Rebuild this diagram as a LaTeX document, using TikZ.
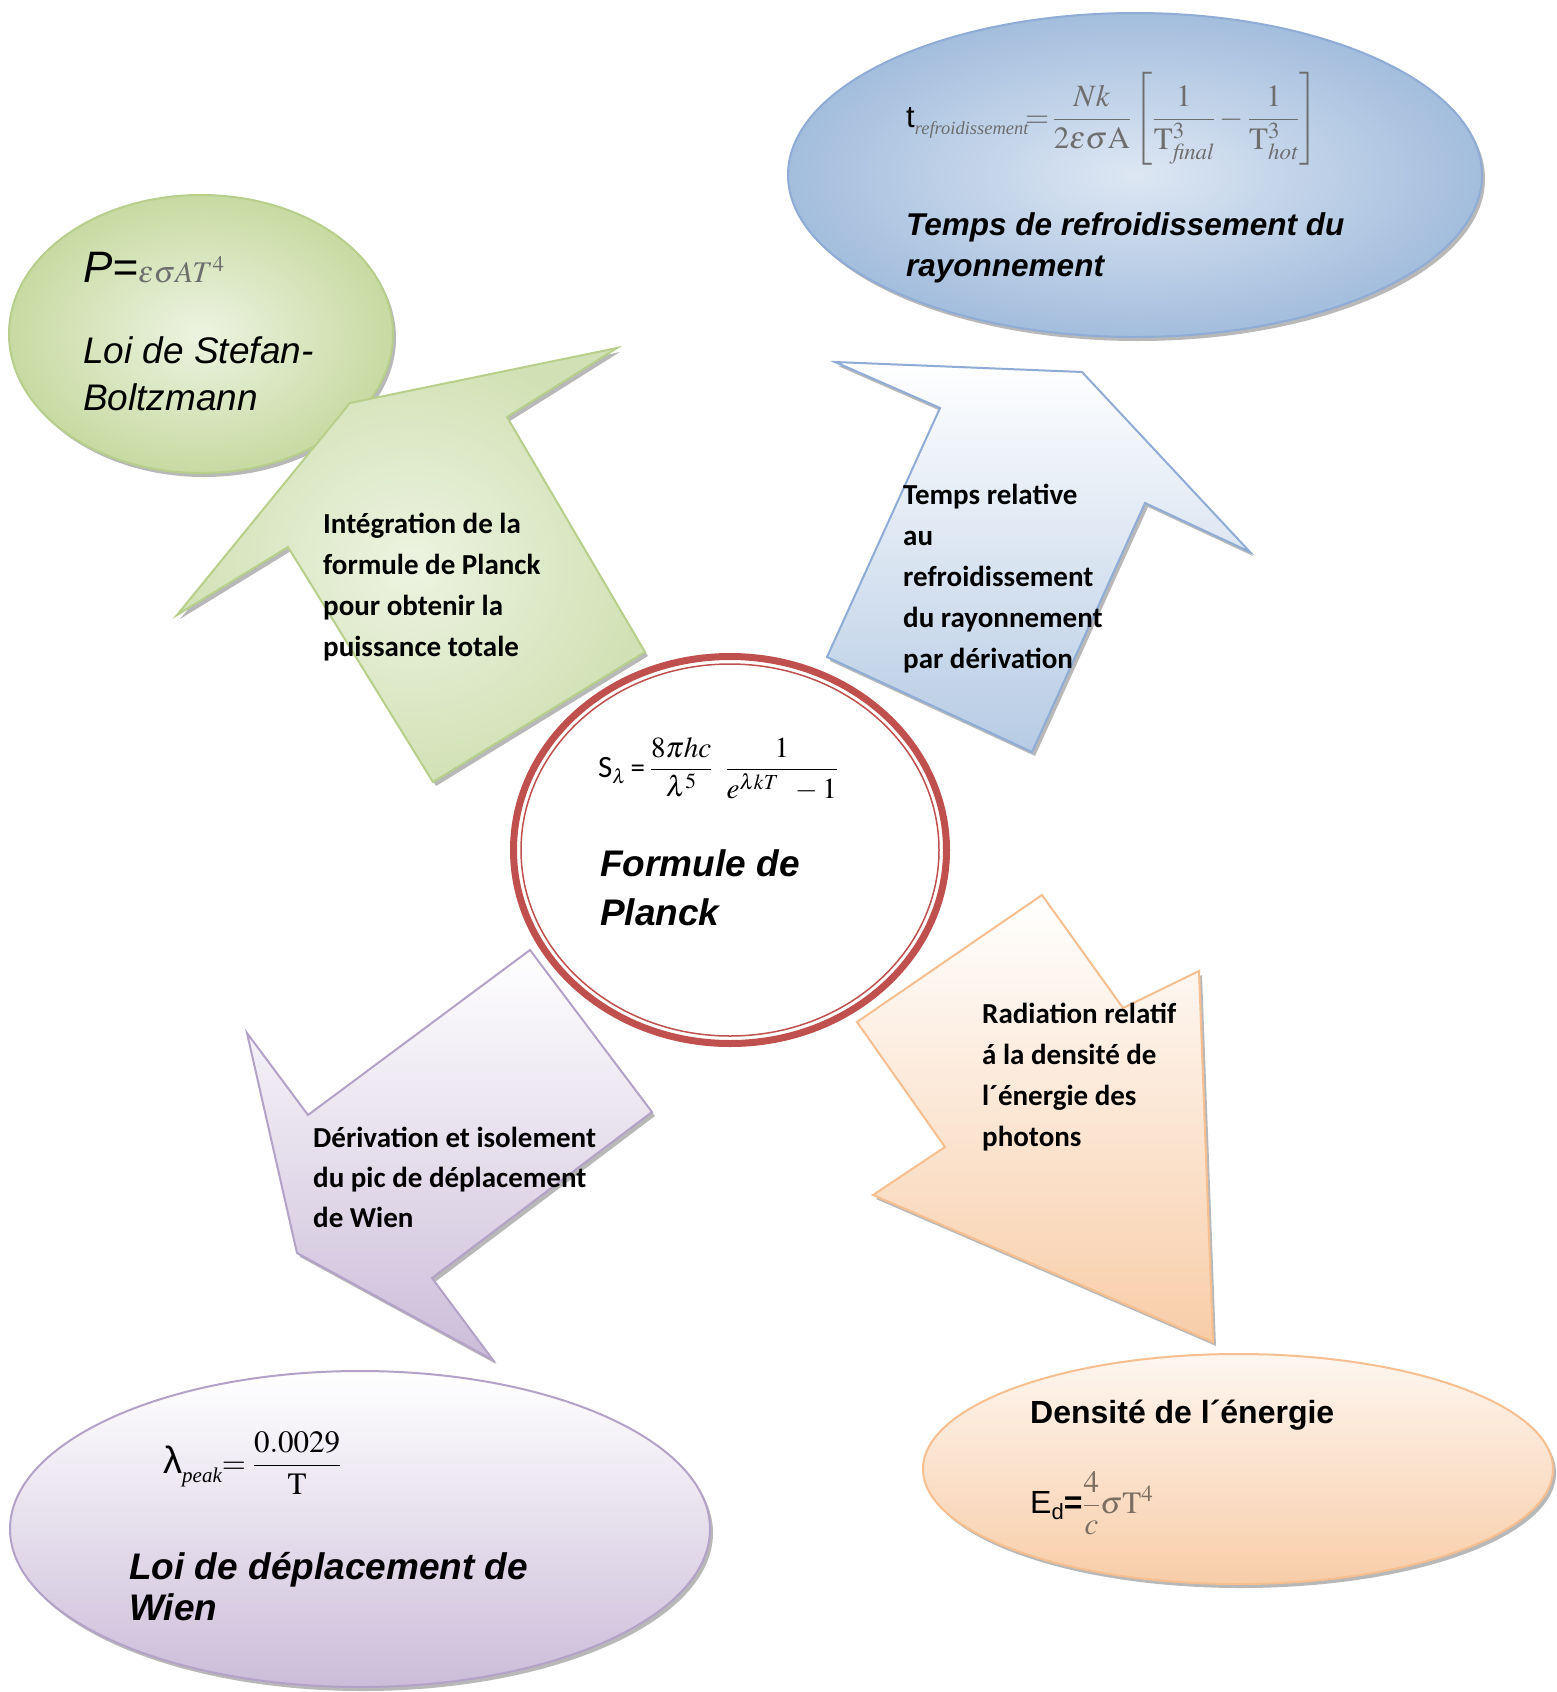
\documentclass[tikz,border=0pt]{standalone}
\usepackage{amsmath}
\usepackage{mathptmx}
\usepackage[no-math]{fontspec}
\setmainfont{Liberation Serif}
\setsansfont{Liberation Sans}
\newfontfamily\arial{Liberation Sans}
\newfontfamily\calibri{Carlito}
\usetikzlibrary{shapes.geometric,shadows}
\definecolor{greenIn}{HTML}{EDF3E1}
\definecolor{greenOut}{HTML}{C8DAA2}
\definecolor{greenB}{HTML}{B7CF8B}
\definecolor{greenArrOut}{HTML}{D2E1B5}
\definecolor{blueIn}{HTML}{DDE7F3}
\definecolor{blueOut}{HTML}{A3BDDD}
\definecolor{blueB}{HTML}{8EACD5}
\definecolor{blueBot}{HTML}{B6CBE4}
\definecolor{purpB}{HTML}{B3A2C8}
\definecolor{purpBot}{HTML}{CBBDD9}
\definecolor{orB}{HTML}{F7BE8F}
\definecolor{orTop}{HTML}{FEF6F0}
\definecolor{orBot}{HTML}{F8CDA8}
\definecolor{ringRed}{HTML}{C0504D}
\definecolor{fgray}{HTML}{6E6E6E}
\definecolor{obrown}{HTML}{7D6E62}
\tikzset{
  ellshadow/.style={drop shadow={shadow xshift=3pt,shadow yshift=-4pt,fill=black,opacity=0.28}},
  blob/.style={ellipse,inner sep=0pt,line width=2pt,ellshadow},
  arrowshape/.style={line width=2pt,line join=miter,ellshadow},
  arrowtext/.style={anchor=base west,align=left,inner sep=0pt,font=\calibri\bfseries\fontsize{29}{41}\selectfont},
  titletext/.style={anchor=base west,align=left,inner sep=0pt},
  formula/.style={anchor=base west,inner sep=0pt}
}
\begin{document}
\begin{tikzpicture}[x=1pt,y=-1pt]
\fill[white] (0,0) rectangle (1557,1692);
\useasboundingbox (0,0) rectangle (1557,1692);

% ellipses
\node[blob,minimum width=384pt,minimum height=278pt,draw=greenB,inner color=greenIn,outer color=greenOut] (stefanell) at (201,334) {};
\node[blob,minimum width=694pt,minimum height=324pt,draw=blueB,inner color=blueIn,outer color=blueOut] (tempsell) at (1135,175) {};
\node[blob,minimum width=700pt,minimum height=316pt,draw=purpB,top color=white,bottom color=purpBot] (wienell) at (360,1529) {};
\node[blob,minimum width=630pt,minimum height=230pt,draw=orB,top color=orTop,bottom color=orBot] (densell) at (1238,1469) {};

% block arrows
\path[arrowshape,draw=greenB,inner color=greenIn,outer color=greenArrOut]
  (350,403) -- (617,348) -- (507,417) -- (645,652) -- (433,782) -- (288,547) -- (177,615) -- cycle;
\path[arrowshape,draw=blueB,top color=white,bottom color=blueBot]
  (835,362) -- (1082,372) -- (1250,552) -- (1145,503) -- (1032,752) -- (827,657) -- (940,408) -- cycle;
\path[arrowshape,draw=purpB,top color=white,bottom color=purpBot]
  (530,950) -- (652,1112) -- (432,1278) -- (493,1360) -- (297,1253) -- (247,1033) -- (308,1115) -- cycle;
\path[arrowshape,draw=orB,top color=white,bottom color=orBot]
  (1042,895) -- (1123,1008) -- (1199,971) -- (1213,1342) -- (873,1195) -- (945,1147) -- (857,1022) -- cycle;

% central ring
\node[ellipse,inner sep=0pt,minimum width=433pt,minimum height=387pt,draw=ringRed,line width=7pt,fill=white,
  drop shadow={shadow xshift=1pt,shadow yshift=-3pt,fill=ringRed,opacity=1}] (planckell) at (730,850) {};
\node[ellipse,inner sep=0pt,minimum width=418pt,minimum height=372pt,draw=ringRed,line width=1.5pt] (planckin) at (730,850) {};

% texts: Stefan-Boltzmann (multi-line nodes are anchored at their last line)
\node[formula] (stefanf) at (83,282) {{\arial\itshape\fontsize{44}{44}\selectfont P=}{\color{fgray}\fontsize{30}{30}\selectfont$\varepsilon\sigma AT^{4}$}};
\node[titletext,font=\arial\itshape\fontsize{37}{47}\selectfont] (stefant) at (83,410) {Loi de Stefan-\\Boltzmann};

% Temps de refroidissement
\node[formula,font=\fontsize{31}{31}\selectfont] (tempsf) at (906,127)
  {{\arial t}\raisebox{-7pt}{\color{fgray}\itshape\fontsize{18.5}{18}\selectfont refroidissement}{\color{fgray}$\!=\!\dfrac{Nk}{2\varepsilon\sigma\mathrm{A}}\left[\dfrac{1}{\mathrm{T}^{3}_{\mathit{final}}}-\dfrac{1}{\mathrm{T}^{3}_{\mathit{hot}}}\right]$}};
\node[titletext,font=\arial\bfseries\itshape\fontsize{31.5}{41}\selectfont] (tempst) at (906,276) {Temps de refroidissement du\\rayonnement};

% Planck
\node[formula,font=\fontsize{29}{29}\selectfont] (planckf) at (598,777)
  {{\calibri\fontsize{31}{31}\selectfont S}\raisebox{-6pt}{\fontsize{20}{20}\selectfont$\lambda$}\,{\calibri =}\,$\dfrac{8\pi hc}{\lambda^{5}}\;\;\dfrac{1}{e^{\lambda kT}\;\;-1}$};
\node[titletext,font=\arial\bfseries\itshape\fontsize{37}{49}\selectfont] (planckt) at (600,925) {Formule de\\Planck};

% Wien
\node[formula,font=\fontsize{31}{31}\selectfont] (wienf) at (163,1473)
  {{\arial\fontsize{38}{38}\selectfont λ}\raisebox{-9pt}{\itshape\fontsize{21}{21}\selectfont peak}$=\dfrac{0.0029}{\mathrm{T}}$};
\node[titletext,font=\arial\bfseries\itshape\fontsize{37}{41}\selectfont] (wient) at (129,1620) {Loi de déplacement de\\Wien};

% Densite
\node[titletext,font=\arial\bfseries\fontsize{32}{32}\selectfont] (denst) at (1030,1423) {Densité de l´énergie};
\node[formula] (densf) at (1030,1513)
  {{\arial\fontsize{32}{32}\selectfont E\raisebox{-6pt}{\fontsize{22}{22}\selectfont d}\textbf{=}}{\color{obrown}\fontsize{31}{31}\selectfont$\dfrac{4}{c}\sigma\mathrm{T}^{4}$}};

% arrow texts
\node[arrowtext] (gtext) at (323,656) {Intégration de la\\formule de Planck\\pour obtenir la\\puissance totale};
\node[arrowtext] (btext) at (903,668) {Temps relative\\au\\refroidissement\\du rayonnement\\par dérivation};
\node[arrowtext,font=\calibri\bfseries\fontsize{29}{40}\selectfont] (ptext) at (313,1227) {Dérivation et isolement\\du pic de déplacement\\de Wien};
\node[arrowtext] (otext) at (982,1146) {Radiation relatif\\á la densité de\\l´énergie des\\photons};
\end{tikzpicture}
\end{document}
